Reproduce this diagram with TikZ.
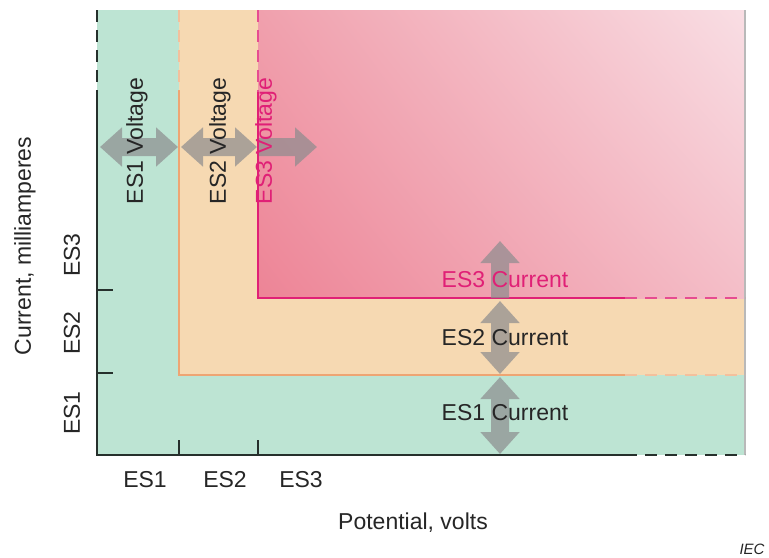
\documentclass[tikz,border=0pt]{standalone}
\usepackage{fontspec}
\setmainfont{Liberation Sans}
\usetikzlibrary{arrows.meta,shadings}
\definecolor{esgreen}{RGB}{189,228,211}
\definecolor{esorange}{RGB}{246,217,178}
\definecolor{pinkll}{RGB}{237,132,150}
\definecolor{pinkul}{RGB}{240,160,173}
\definecolor{pinklr}{RGB}{244,190,200}
\definecolor{pinkur}{RGB}{249,222,228}
\definecolor{esmagenta}{RGB}{224,32,118}
\definecolor{esline}{RGB}{38,48,44}
\definecolor{orline}{RGB}{238,165,115}
\definecolor{fatgray}{RGB}{140,140,142}
\tikzset{
  lbl/.style={font=\fontsize{11.5}{13}\selectfont, text=black!85, inner sep=0pt},
  fatarrow/.style={line width=9pt, draw=fatgray,
    -{Triangle[width=19pt,length=11pt]}},
  fatboth/.style={fatarrow, {Triangle[width=19pt,length=11pt]}-{Triangle[width=19pt,length=11pt]}},
  dashline/.style={dash pattern=on 6pt off 4pt},
}
\begin{document}
\begin{tikzpicture}[x=0.5pt,y=-0.5pt]
  \useasboundingbox (0,0) rectangle (769,557);
  % bands
  \fill[esgreen] (97,10) rectangle (745,455);
  \fill[esorange] (179,10) rectangle (745,375);
  \shade[lower left=pinkll, upper left=pinkul, lower right=pinklr, upper right=pinkur] (258,10) rectangle (745,298);
  \draw[gray!55, line width=0.8pt] (745,10) -- (745,455);
  % limits
  \draw[orline, line width=1pt] (179,90) -- (179,375) -- (625,375);
  \draw[orline!70, line width=1pt, dashline] (179,10) -- (179,90) (625,375) -- (745,375);
  \draw[esmagenta, line width=1pt] (258,92) -- (258,298) -- (625,298);
  \draw[esmagenta!80, line width=1.2pt, dashline] (258,10) -- (258,92) (625,298) -- (745,298);
  % axes
  \draw[esline, line width=1.2pt] (97,90) -- (97,455) -- (625,455);
  \draw[esline, line width=1.2pt, dashline] (97,10) -- (97,90) (625,455) -- (745,455);
  \foreach \yy in {290,373} \draw[esline, line width=1pt] (97,\yy) -- (113,\yy);
  \foreach \xx in {179,258} \draw[esline, line width=1pt] (\xx,440) -- (\xx,455);
  % voltage arrows
  \coordinate (v0) at (100,147);
  \coordinate (v1) at (178,147);
  \coordinate (v2) at (181,147);
  \coordinate (v3) at (257,147);
  \coordinate (v4) at (259,147);
  \coordinate (v5) at (317,147);
  % current arrows
  \coordinate (c0) at (500,298);
  \coordinate (c1) at (500,241);
  \coordinate (c2) at (500,301);
  \coordinate (c3) at (500,374);
  \coordinate (c4) at (500,377);
  \coordinate (c5) at (500,454);
  \begin{scope}[transparency group, opacity=0.7]
    \draw[fatboth] (v0) -- (v1);
    \draw[fatboth] (v2) -- (v3);
    \draw[fatarrow] (v4) -- (v5);
    \draw[fatarrow] (c0) -- (c1);
    \draw[fatboth] (c2) -- (c3);
    \draw[fatboth] (c4) -- (c5);
  \end{scope}
  % labels
  \node[lbl, rotate=90] (es1v) at (137,141) {ES1 Voltage};
  \node[lbl, rotate=90] (es2v) at (220,141) {ES2 Voltage};
  \node[lbl, rotate=90, text=esmagenta] (es3v) at (266,141) {ES3 Voltage};
  \node[lbl, text=esmagenta] (es3c) at (505,280) {ES3 Current};
  \node[lbl] (es2c) at (505,338) {ES2 Current};
  \node[lbl] (es1c) at (505,413) {ES1 Current};
  \node[lbl] (xes1) at (145,480) {ES1};
  \node[lbl] (xes2) at (225,480) {ES2};
  \node[lbl] (xes3) at (301,480) {ES3};
  \node[lbl] (xlab) at (413,523) {Potential, volts};
  \node[lbl, rotate=90] (yes1) at (72,413) {ES1};
  \node[lbl, rotate=90] (yes2) at (72,333) {ES2};
  \node[lbl, rotate=90] (yes3) at (72,255) {ES3};
  \node[lbl, rotate=90] (ylab) at (25,246) {Current, milliamperes};
  \node[lbl, font=\fontsize{7.5}{9}\selectfont\itshape] (iec) at (752,549) {IEC};
\end{tikzpicture}
\end{document}
